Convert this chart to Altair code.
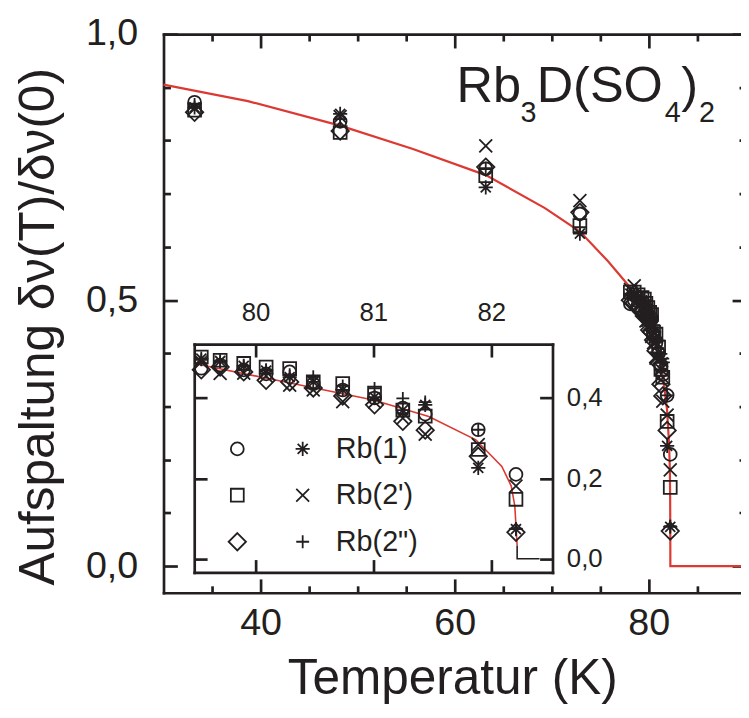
import altair as alt
import pandas as pd

INK = "#231f20"
RED = "#dc3933"
FONT = "Liberation Sans"

# ---------------- data ----------------
T_main = [33.2, 48.2, 63.2, 72.9]
T_edge = [78.1, 78.5, 78.9, 79.3]
T_inset = [79.54, 79.70, 79.90, 80.09, 80.29, 80.49, 80.74, 81.01, 81.25, 81.44, 81.89, 82.21]

# legend order (column-major): open markers first, then line markers
series_names = ["Rb(1) o", "Rb(2') o", 'Rb(2") o', "Rb(1)", "Rb(2')", 'Rb(2")']

v_circle = [0.872, 0.836, 0.747, 0.662,
            0.493, 0.500, 0.490, 0.480,
            0.474, 0.482, 0.470, 0.460, 0.465, 0.435, 0.420, 0.400, 0.375, 0.360, 0.321, 0.210]
v_square = [0.857, 0.815, 0.734, 0.640,
            0.515, 0.515, 0.510, 0.505,
            0.502, 0.494, 0.486, 0.477, 0.473, 0.440, 0.436, 0.412, 0.370, 0.355, 0.272, 0.148]
v_diamond = [0.853, 0.818, 0.750, 0.665,
             0.500, 0.495, 0.485, 0.478,
             0.470, 0.477, 0.465, 0.444, 0.440, 0.425, 0.405, 0.383, 0.342, 0.320, 0.255, 0.066]
v_asterisk = [0.862, 0.850, 0.712, 0.625,
              0.512, 0.510, 0.505, 0.500,
              0.498, 0.492, 0.480, 0.468, 0.452, 0.440, 0.420, 0.402, 0.370, 0.383, 0.226, 0.074]
v_cross = [0.860, 0.845, 0.790, 0.687,
           0.520, 0.527, 0.500, 0.495,
           0.490, 0.461, 0.462, 0.455, 0.432, 0.420, 0.391, 0.390, 0.350, 0.310, 0.284, 0.181]
v_plus = [0.868, 0.840, 0.748, 0.637,
          0.510, 0.508, 0.500, 0.498,
          0.495, 0.490, 0.480, 0.470, 0.458, 0.453, 0.430, 0.424, 0.399, 0.390, 0.321, 0.075]

# fitted curve (red)
curve_T = [30.0, 38.7, 48.2, 55.7, 63.2, 69.3, 72.9, 75.8, 77.8, 79.48, 80.18, 81.0, 81.47, 81.87, 82.09, 82.17, 82.2, 82.22]
curve_v = [0.905, 0.874, 0.828, 0.784, 0.735, 0.673, 0.629, 0.573, 0.530, 0.486, 0.444, 0.395, 0.354, 0.296, 0.230, 0.181, 0.132, 0.033]
main_tail_T = [82.22, 89.5]
main_tail_v = [0.0, 0.0]
inset_tail_T = [82.22, 82.22, 82.41]
inset_tail_v = [0.033, 0.0, 0.0]

# axis tick values
x_major = [40, 60, 80]
x_minor = [35, 45, 50, 55, 65, 70, 75, 85]
y_major = [0.0, 0.5, 1.0]
y_minor = [0.1, 0.2, 0.3, 0.4, 0.6, 0.7, 0.8, 0.9]
ix_ticks = [80, 81, 82]
iy_ticks = [0.0, 0.2, 0.4]

# ---------------- tables ----------------
T_all = T_main + T_edge + T_inset
vals = [v_circle, v_square, v_diamond, v_asterisk, v_cross, v_plus]
rows = []
for name, vs in zip(series_names, vals):
    for t, v in zip(T_all, vs):
        rows.append({"T": t, "v": v, "series": name})
pts = pd.DataFrame(rows)

main_line = pd.DataFrame({"T": curve_T + main_tail_T, "v": curve_v + main_tail_v})
main_line["i"] = range(len(main_line))
inset_line = pd.DataFrame({"T": curve_T, "v": curve_v})
inset_line["i"] = range(len(inset_line))
tail = pd.DataFrame({"T": inset_tail_T, "v": inset_tail_v})
tail["i"] = range(len(tail))

# ---------------- geometry ----------------
W, H = 583, 564
IN_L, IN_R, IN_T, IN_B = 31, 392.7, 313, 543.5

SHAPES = [
    "circle",
    "square",
    "M0,-1.35L1.35,0L0,1.35L-1.35,0Z",
    "M-1.1,0L1.1,0M0,-1.1L0,1.1M-0.78,-0.78L0.78,0.78M-0.78,0.78L0.78,-0.78",
    "M-1,-1L1,1M-1,1L1,-1",
    "M-1,0L1,0M0,-1L0,1",
]

comma = "replace(format(datum.value, '.1f'), '.', ',')"

base_ax = dict(grid=False, tickColor=INK, tickWidth=2.7, domainColor=INK, domainWidth=2.7,
               domainCap="square", labelFont=FONT, labelColor=INK, titleFont=FONT,
               titleColor=INK, titleFontWeight="normal")


def ax(**kw):
    d = dict(base_ax)
    d.update(kw)
    if "title" not in d:
        d["title"] = None
    return alt.Axis(**d)


def tick_ax(orient, offset, values, size, domain=False):
    return ax(orient=orient, offset=offset, values=values, ticks=True, tickSize=size,
              labels=False, domain=domain)


def mx(axis):
    return alt.X("T:Q", scale=alt.Scale(domain=[30, 89.5], nice=False, zero=False), axis=axis)


def my(axis):
    return alt.Y("v:Q", scale=alt.Scale(domain=[-0.05, 1.0], nice=False, zero=False), axis=axis)


def ix(axis):
    return alt.X("T:Q", scale=alt.Scale(domain=[79.48, 82.52], range=[IN_L, IN_R], nice=False, zero=False), axis=axis)


def iy(axis):
    return alt.Y("v:Q", scale=alt.Scale(domain=[-0.034, 0.534], range=[IN_B, IN_T], nice=False, zero=False), axis=axis)


legend = alt.Legend(orient="none", legendX=60, legendY=404, columns=2, title=None, padding=0,
                    labelFont=FONT, labelFontSize=29, labelColor=INK, labelOffset=19,
                    columnPadding=18, rowPadding=17, symbolSize=169, symbolStrokeWidth=1.8,
                    symbolStrokeColor=INK, symbolFillColor="transparent",
                    labelExpr="indexof(datum.label, ' o') >= 0 ? '' : datum.label")
shape_enc = alt.Shape("series:N", scale=alt.Scale(domain=series_names, range=SHAPES), legend=legend)

# ---------------- main plot layers ----------------
main_curve = alt.Chart(main_line).mark_line(color=RED, strokeWidth=2.2).encode(
    x=mx(ax(orient="bottom", values=x_major, format="d", labelFontSize=38, labelPadding=12,
            ticks=False, domain=True, title="Temperatur (K)", titleFontSize=50,
            titleY=102, titleBaseline="alphabetic")),
    y=my(ax(orient="left", values=y_major, labelExpr=comma, labelFontSize=38, labelPadding=26,
            ticks=False, domain=True, title="Aufspaltung δν(T)/δν(0)", titleFontSize=50,
            titleX=-111, titleY=295, titleBaseline="alphabetic")),
    order="i:Q",
)

main_pts = alt.Chart(pts).mark_point(filled=False, size=169, strokeWidth=1.8, color=INK, opacity=1).encode(
    x=mx(tick_ax("top", -H, x_minor, 7)),
    y=my(tick_ax("right", -W, y_minor, 7)),
    shape=shape_enc,
)

ghost1 = alt.Chart(main_line).mark_line(opacity=0).encode(
    x=mx(tick_ax("top", -H, x_major, 14)),
    y=my(tick_ax("right", -W, y_major, 14)),
    order="i:Q",
)
ghost2 = alt.Chart(main_line).mark_line(opacity=0).encode(
    x=mx(tick_ax("bottom", -H, x_major, 14, domain=True)),
    y=my(tick_ax("left", -(W + 5), y_major, 14)),
    order="i:Q",
)
ghost3 = alt.Chart(main_line).mark_line(opacity=0).encode(
    x=mx(tick_ax("bottom", -H, x_minor, 7)),
    y=my(tick_ax("left", -(W + 5), y_minor, 7)),
    order="i:Q",
)

# ---------------- inset layers ----------------
inset_curve = alt.Chart(inset_line).transform_filter("datum.T >= 79.48").mark_line(
    color=RED, strokeWidth=1.6).encode(
    x=ix(ax(orient="top", offset=-IN_T, values=ix_ticks, format="d", labelFontSize=26,
            labelPadding=19, ticks=False, domain=True)),
    y=iy(ax(orient="right", offset=-(W - IN_R), values=iy_ticks, labelExpr=comma,
            labelFontSize=26, labelPadding=14, ticks=False, domain=True)),
    order="i:Q",
)

inset_tail = alt.Chart(tail).mark_line(color=INK, strokeWidth=1.6).encode(
    x=ix(tick_ax("bottom", -(H - IN_T), ix_ticks, 13)),
    y=iy(tick_ax("left", -IN_R, iy_ticks, 13)),
    order="i:Q",
)

inset_pts = alt.Chart(pts).transform_filter("datum.T >= 79.48").mark_point(
    filled=False, size=169, strokeWidth=1.8, color=INK, opacity=1).encode(
    x=ix(tick_ax("top", -IN_B, ix_ticks, 13, domain=True)),
    y=iy(tick_ax("right", -(W - IN_L), iy_ticks, 13, domain=True)),
    shape=shape_enc,
)


# ---------------- compound label ----------------
def txt(s, x, y, fs):
    return alt.Chart(alt.Data(values=[{}])).mark_text(
        text=s, align="left", baseline="alphabetic", font=FONT, fontSize=fs, color=INK
    ).encode(x=alt.value(x), y=alt.value(y))


label_layers = [
    txt("Rb", 295.7, 69, 51),
    txt("3", 360.5, 89, 29),
    txt("D(SO", 376.7, 69, 51),
    txt("4", 506, 89, 29),
    txt(")", 522.7, 69, 51),
    txt("2", 540.7, 89, 29),
]

chart = alt.layer(
    ghost1, ghost2, ghost3, main_curve, main_pts,
    inset_curve, inset_tail, inset_pts, *label_layers
).resolve_scale(
    x="independent", y="independent"
).properties(
    width=W, height=H,
    autosize=alt.AutoSizeParams(type="none"),
    padding={"left": 157, "top": 23, "right": 0, "bottom": 115},
).configure_view(stroke=None).configure(background="white")

chart.save("out.html", embed_options={"renderer": "svg", "actions": False})
